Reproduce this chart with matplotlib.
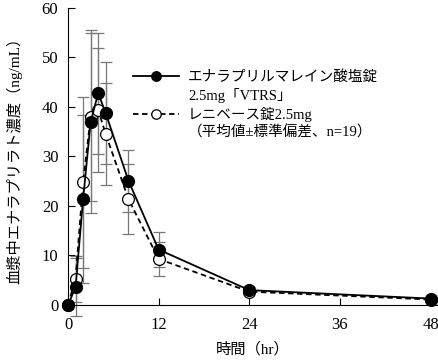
import matplotlib
matplotlib.use('Agg')
import matplotlib.pyplot as plt
from matplotlib.lines import Line2D

# time points (hr)
hours = [0, 1, 2, 3, 4, 5, 8, 12, 24, 48]

# enalapril maleate 2.5mg "VTRS"
test_mean = [0, 3.6, 21.4, 37.0, 42.8, 38.7, 25.1, 11.2, 3.0, 1.3]
test_sd = [0, 5.8, 17.0, 18.5, 12.2, 10.3, 6.3, 3.5, 0.6, 0.4]

# Renivace 2.5mg
ref_mean = [0, 5.3, 24.8, 38.0, 39.4, 34.5, 21.4, 9.3, 2.7, 1.1]
ref_sd = [0, 4.6, 17.3, 17.0, 12.5, 10.3, 7.0, 3.5, 0.5, 0.4]

x_ticks = [0, 12, 24, 36, 48]
y_ticks = [0, 10, 20, 30, 40, 50, 60]

fam = ['Liberation Serif', 'Noto Sans CJK JP']
plt.rcParams['font.family'] = fam

fig = plt.figure(figsize=(4.39, 3.60), dpi=100)
ax = fig.add_axes([0.1549, 0.1528, 0.843, 0.825])

ebar_col = '#777777'
ax.errorbar(hours, ref_mean, yerr=ref_sd, fmt='none', ecolor=ebar_col,
            elinewidth=0.9, capsize=4, capthick=0.9, clip_on=False, zorder=2)
ax.errorbar(hours, test_mean, yerr=test_sd, fmt='none', ecolor=ebar_col,
            elinewidth=0.9, capsize=4, capthick=0.9, clip_on=False, zorder=2)

l_ref, = ax.plot(hours, ref_mean, color='black', linestyle=(0, (3, 2)), linewidth=1.3,
                 marker='o', markersize=8.5, markerfacecolor='white',
                 markeredgecolor='black', markeredgewidth=0.9, clip_on=False, zorder=3)
l_test, = ax.plot(hours, test_mean, color='black', linestyle='-', linewidth=1.3,
                  marker='o', markersize=8.5, markerfacecolor='black',
                  markeredgecolor='black', clip_on=False, zorder=4)

ax.set_xlim(0, 49)
ax.set_ylim(0, 60)
ax.set_xticks(x_ticks)
ax.set_yticks(y_ticks)
ax.tick_params(direction='in', length=5, width=0.8, labelsize=12)
ax.tick_params(axis='x', pad=9)
ax.tick_params(axis='y', pad=7)
ax.spines['top'].set_visible(False)
ax.spines['right'].set_visible(False)
for s in ('left', 'bottom'):
    ax.spines[s].set_linewidth(0.8)

ax.set_xlabel('時間（hr）', fontsize=11, labelpad=6)
ax.set_ylabel('血漿中エナラプリラト濃度（ng/mL）', fontsize=11, labelpad=14)

blank = Line2D([], [], linestyle='none')
ax.legend([l_test, blank, l_ref, blank],
          ['エナラプリルマレイン酸塩錠', '2.5mg「VTRS」',
           'レニベース錠2.5mg', '（平均値±標準偏差、n=19）'],
          loc='upper left', bbox_to_anchor=(0.175, 0.79), frameon=False,
          fontsize=10.5, handlelength=3.2, handletextpad=0.6, markerscale=0.8,
          labelspacing=0.25, borderpad=0, borderaxespad=0)

fig.savefig('out.png', dpi=100)
